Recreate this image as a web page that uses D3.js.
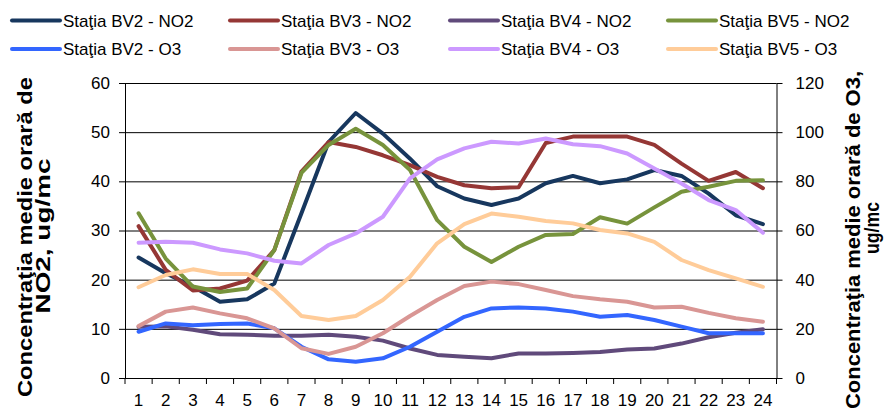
<!DOCTYPE html>
<html>
<head>
<meta charset="utf-8">
<script src="https://cdn.jsdelivr.net/npm/d3@7"></script>
<style>
  html, body { margin: 0; padding: 0; background: #fff; }
  svg { display: block; font-family: Arial, "Liberation Sans", sans-serif; }
</style>
</head>
<body>
<svg id="chart" width="886" height="412"></svg>
<script>
// ---- data ----
const hours = d3.range(1, 25);
const seriesNames = [
  "Staţia BV2 - NO2", "Staţia BV3 - NO2", "Staţia BV4 - NO2", "Staţia BV5 - NO2",
  "Staţia BV2 - O3", "Staţia BV3 - O3", "Staţia BV4 - O3", "Staţia BV5 - O3"
];
const bv2no2 = [24.5, 21.3, 18.6, 15.5, 16.0, 19.2, 33.5, 48.0, 53.9, 49.7, 44.6, 39.0, 36.5, 35.2, 36.5, 39.6, 41.1, 39.6, 40.4, 42.3, 41.1, 37.5, 33.1, 31.3];
const bv3no2 = [30.9, 22.0, 17.8, 18.2, 19.8, 26.0, 42.0, 48.0, 47.0, 45.3, 43.3, 40.9, 39.2, 38.6, 38.8, 47.8, 49.1, 49.1, 49.1, 47.4, 43.6, 40.1, 41.9, 38.6];
const bv4no2 = [10.4, 10.5, 9.8, 8.9, 8.8, 8.6, 8.6, 8.8, 8.4, 7.6, 6.0, 4.7, 4.3, 4.0, 5.0, 5.0, 5.1, 5.3, 5.8, 6.0, 7.0, 8.3, 9.2, 9.9];
const bv5no2 = [33.5, 24.3, 18.6, 17.5, 18.2, 26.0, 41.7, 47.4, 50.7, 47.4, 42.3, 32.1, 26.7, 23.6, 26.7, 29.1, 29.3, 32.7, 31.4, 34.7, 37.9, 38.9, 40.1, 40.2];
const bv2o3 = [18.8, 22.2, 21.5, 22.0, 22.2, 20.2, 12.7, 7.6, 6.6, 8.0, 12.7, 18.8, 24.9, 28.3, 28.7, 28.3, 27.0, 24.9, 25.6, 23.6, 20.9, 18.2, 18.2, 18.2];
const bv3o3 = [21.1, 27.0, 28.7, 26.3, 24.3, 20.2, 12.1, 9.8, 12.7, 18.2, 25.2, 31.7, 37.4, 39.2, 38.2, 35.8, 33.3, 32.0, 31.0, 28.7, 29.0, 26.5, 24.3, 22.9];
const bv4o3 = [55.0, 55.4, 55.0, 52.3, 50.7, 47.7, 46.6, 54.1, 58.8, 65.6, 81.2, 88.9, 93.4, 96.1, 95.4, 97.4, 95.1, 94.3, 91.3, 85.2, 79.1, 72.4, 68.3, 59.1];
const bv5o3 = [36.9, 41.9, 44.2, 42.3, 42.3, 35.8, 25.2, 23.6, 25.2, 31.7, 41.2, 54.8, 62.6, 66.9, 65.6, 63.9, 62.9, 60.2, 58.8, 55.4, 48.0, 43.9, 40.5, 37.1];
const leftTicks = [0, 10, 20, 30, 40, 50, 60];
const rightTicks = [0, 20, 40, 60, 80, 100, 120];
const leftTitle = ["Concentraţia medie orară de", "NO2, ug/mc"];
const rightTitle = ["Concentraţia medie orară de O3,", "ug/mc"];

// ---- layout ----
const colors = ["#17375E", "#953735", "#604A7B", "#77933C", "#3366FF", "#D99694", "#CC99FF", "#FFCC99"];
const seriesData = [bv2no2, bv3no2, bv4no2, bv5no2, bv2o3, bv3o3, bv4o3, bv5o3];
const axisOf = [0, 0, 0, 0, 1, 1, 1, 1];

const X0 = 125, X1 = 776.5, YT = 83, YB = 378;
const svg = d3.select("#chart");

const x = d3.scaleBand().domain(hours).range([X0, X1]).paddingInner(0).paddingOuter(0);
const yL = d3.scaleLinear().domain([0, 60]).range([YB, YT]);
const yR = d3.scaleLinear().domain([0, 120]).range([YB, YT]);

// gridlines
const grid = svg.append("g").attr("transform", `translate(${X0},0)`)
  .call(d3.axisLeft(yL).tickValues(leftTicks.slice(1)).tickSize(-(X1 - X0)).tickFormat(""));
grid.select(".domain").remove();
grid.selectAll("line").attr("stroke", "#000").attr("stroke-width", 1);

// left axis
const gl = svg.append("g").attr("transform", `translate(${X0},0)`)
  .call(d3.axisLeft(yL).tickValues(leftTicks).tickSize(6).tickSizeOuter(0).tickPadding(9));
gl.select(".domain").attr("stroke", "#000");
gl.selectAll(".tick line").attr("stroke", "#000");
gl.selectAll(".tick text").attr("font-size", 17).attr("fill", "#000")
  .attr("font-family", "Arial, 'Liberation Sans', sans-serif");

// right axis
const gr = svg.append("g").attr("transform", `translate(${X1},0)`)
  .call(d3.axisRight(yR).tickValues(rightTicks).tickSize(6).tickSizeOuter(0).tickPadding(13));
gr.select(".domain").attr("stroke", "#000");
gr.selectAll(".tick line").attr("stroke", "#000");
gr.selectAll(".tick text").attr("font-size", 17).attr("fill", "#000")
  .attr("font-family", "Arial, 'Liberation Sans', sans-serif");

// x axis
const gx = svg.append("g").attr("transform", `translate(0,${YB})`)
  .call(d3.axisBottom(x).tickSize(0).tickPadding(16));
gx.select(".domain").attr("stroke", "#000").attr("d", `M${X0},0.5H${X1}`);
gx.selectAll(".tick text").attr("font-size", 17).attr("fill", "#000")
  .attr("font-family", "Arial, 'Liberation Sans', sans-serif");
// tick marks at category boundaries
const bounds = hours.map(h => x(h)).concat([X1]);
gx.selectAll(".bound").data(bounds).enter().append("line")
  .attr("x1", d => d).attr("x2", d => d).attr("y1", 0).attr("y2", 6)
  .attr("stroke", "#000");

// lines
const lineL = d3.line().x((d, i) => x(hours[i]) + x.bandwidth() / 2).y(d => yL(d));
const lineR = d3.line().x((d, i) => x(hours[i]) + x.bandwidth() / 2).y(d => yR(d));
seriesData.forEach((s, k) => {
  svg.append("path").datum(s)
    .attr("d", axisOf[k] ? lineR : lineL)
    .attr("fill", "none").attr("stroke", colors[k]).attr("stroke-width", 4)
    .attr("stroke-linejoin", "round").attr("stroke-linecap", "round");
});

// legend
const colX = [12, 230, 450, 668];
const rowY = [20.5, 49];
seriesNames.forEach((n, k) => {
  const cx = colX[k % 4], cy = rowY[Math.floor(k / 4)];
  svg.append("line").attr("x1", cx).attr("x2", cx + 48).attr("y1", cy).attr("y2", cy)
    .attr("stroke", colors[k]).attr("stroke-width", 4).attr("stroke-linecap", "round");
  svg.append("text").attr("x", cx + 51).attr("y", cy + 6).attr("font-size", 17).attr("fill", "#000")
    .text(n);
});

// axis titles
const lt = svg.append("g").attr("font-weight", "bold").attr("font-size", 20).attr("fill", "#000");
lt.append("text").attr("transform", "translate(32,237) rotate(-90)").attr("text-anchor", "middle")
  .attr("textLength", 320).attr("lengthAdjust", "spacingAndGlyphs").text(leftTitle[0]);
lt.append("text").attr("transform", "translate(50,236) rotate(-90)").attr("text-anchor", "middle")
  .attr("textLength", 155).attr("lengthAdjust", "spacingAndGlyphs").text(leftTitle[1]);
lt.append("text").attr("transform", "translate(860,71) rotate(-90)").attr("text-anchor", "end")
  .attr("textLength", 338).attr("lengthAdjust", "spacingAndGlyphs").text(rightTitle[0]);
lt.append("text").attr("transform", "translate(879,228) rotate(-90)").attr("text-anchor", "middle")
  .attr("textLength", 52).attr("lengthAdjust", "spacingAndGlyphs").text(rightTitle[1]);
</script>
</body>
</html>
